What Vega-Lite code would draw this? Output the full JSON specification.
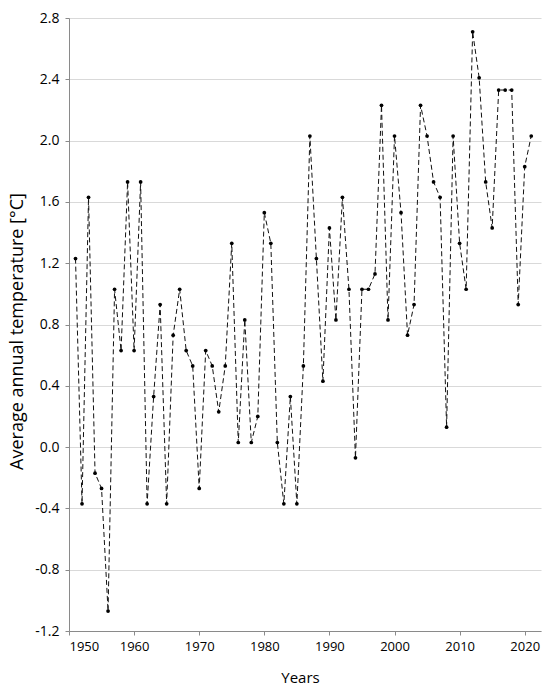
{
  "$schema": "https://vega.github.io/schema/vega-lite/v6.json",
  "width": 472,
  "height": 613,
  "autosize": "none",
  "padding": {"left": 69, "top": 18, "right": 9, "bottom": 58},
  "background": "white",
  "data": {
    "values": [
      {"Year": 1951, "Temp": 1.23}, {"Year": 1952, "Temp": -0.37}, {"Year": 1953, "Temp": 1.63},
      {"Year": 1954, "Temp": -0.17}, {"Year": 1955, "Temp": -0.27}, {"Year": 1956, "Temp": -1.07},
      {"Year": 1957, "Temp": 1.03}, {"Year": 1958, "Temp": 0.63}, {"Year": 1959, "Temp": 1.73},
      {"Year": 1960, "Temp": 0.63}, {"Year": 1961, "Temp": 1.73}, {"Year": 1962, "Temp": -0.37},
      {"Year": 1963, "Temp": 0.33}, {"Year": 1964, "Temp": 0.93}, {"Year": 1965, "Temp": -0.37},
      {"Year": 1966, "Temp": 0.73}, {"Year": 1967, "Temp": 1.03}, {"Year": 1968, "Temp": 0.63},
      {"Year": 1969, "Temp": 0.53}, {"Year": 1970, "Temp": -0.27}, {"Year": 1971, "Temp": 0.63},
      {"Year": 1972, "Temp": 0.53}, {"Year": 1973, "Temp": 0.23}, {"Year": 1974, "Temp": 0.53},
      {"Year": 1975, "Temp": 1.33}, {"Year": 1976, "Temp": 0.03}, {"Year": 1977, "Temp": 0.83},
      {"Year": 1978, "Temp": 0.03}, {"Year": 1979, "Temp": 0.2}, {"Year": 1980, "Temp": 1.53},
      {"Year": 1981, "Temp": 1.33}, {"Year": 1982, "Temp": 0.03}, {"Year": 1983, "Temp": -0.37},
      {"Year": 1984, "Temp": 0.33}, {"Year": 1985, "Temp": -0.37}, {"Year": 1986, "Temp": 0.53},
      {"Year": 1987, "Temp": 2.03}, {"Year": 1988, "Temp": 1.23}, {"Year": 1989, "Temp": 0.43},
      {"Year": 1990, "Temp": 1.43}, {"Year": 1991, "Temp": 0.83}, {"Year": 1992, "Temp": 1.63},
      {"Year": 1993, "Temp": 1.03}, {"Year": 1994, "Temp": -0.07}, {"Year": 1995, "Temp": 1.03},
      {"Year": 1996, "Temp": 1.03}, {"Year": 1997, "Temp": 1.13}, {"Year": 1998, "Temp": 2.23},
      {"Year": 1999, "Temp": 0.83}, {"Year": 2000, "Temp": 2.03}, {"Year": 2001, "Temp": 1.53},
      {"Year": 2002, "Temp": 0.73}, {"Year": 2003, "Temp": 0.93}, {"Year": 2004, "Temp": 2.23},
      {"Year": 2005, "Temp": 2.03}, {"Year": 2006, "Temp": 1.73}, {"Year": 2007, "Temp": 1.63},
      {"Year": 2008, "Temp": 0.13}, {"Year": 2009, "Temp": 2.03}, {"Year": 2010, "Temp": 1.33},
      {"Year": 2011, "Temp": 1.03}, {"Year": 2012, "Temp": 2.71}, {"Year": 2013, "Temp": 2.41},
      {"Year": 2014, "Temp": 1.73}, {"Year": 2015, "Temp": 1.43}, {"Year": 2016, "Temp": 2.33},
      {"Year": 2017, "Temp": 2.33}, {"Year": 2018, "Temp": 2.33}, {"Year": 2019, "Temp": 0.93},
      {"Year": 2020, "Temp": 1.83}, {"Year": 2021, "Temp": 2.03}
    ]
  },
  "mark": {
    "type": "line",
    "color": "#111111",
    "strokeWidth": 1,
    "strokeDash": [5, 3],
    "point": {"filled": true, "size": 14, "color": "#000000"}
  },
  "encoding": {
    "x": {
      "field": "Year",
      "type": "quantitative",
      "scale": {"domain": [1950, 2022.5], "nice": false, "zero": false},
      "axis": {
        "title": "Years",
        "values": [1950, 1960, 1970, 1980, 1990, 2000, 2010, 2020],
        "format": "d",
        "grid": false,
        "titleX": 231,
        "titleY": 46,
        "titleBaseline": "middle",
        "titleAlign": "center",
        "titleFontSize": 15,
        "labelPadding": 5
      }
    },
    "y": {
      "field": "Temp",
      "type": "quantitative",
      "scale": {"domain": [-1.2, 2.8], "nice": false, "zero": false},
      "axis": {
        "title": "Average annual temperature [°C]",
        "values": [-1.2, -0.8, -0.4, 0, 0.4, 0.8, 1.2, 1.6, 2.0, 2.4, 2.8],
        "labelExpr": "replace(format(datum.value, '.1f'), '\u2212', '-')",
        "grid": true,
        "gridColor": "#d9d9d9",
        "titleX": -52,
        "titleY": 313,
        "titleAngle": -90,
        "titleBaseline": "middle",
        "titleAlign": "center",
        "titleFontSize": 18,
        "labelFontSize": 14,
        "labelPadding": 6
      }
    }
  },
  "config": {
    "view": {"stroke": null},
    "axis": {
      "domainColor": "#8a8a8a",
      "tickColor": "#8a8a8a",
      "tickSize": 4,
      "labelFont": "Open Sans",
      "labelFontSize": 13,
      "labelColor": "#000000",
      "titleFont": "Open Sans",
      "titleFontWeight": "normal",
      "titleColor": "#000000"
    }
  }
}
